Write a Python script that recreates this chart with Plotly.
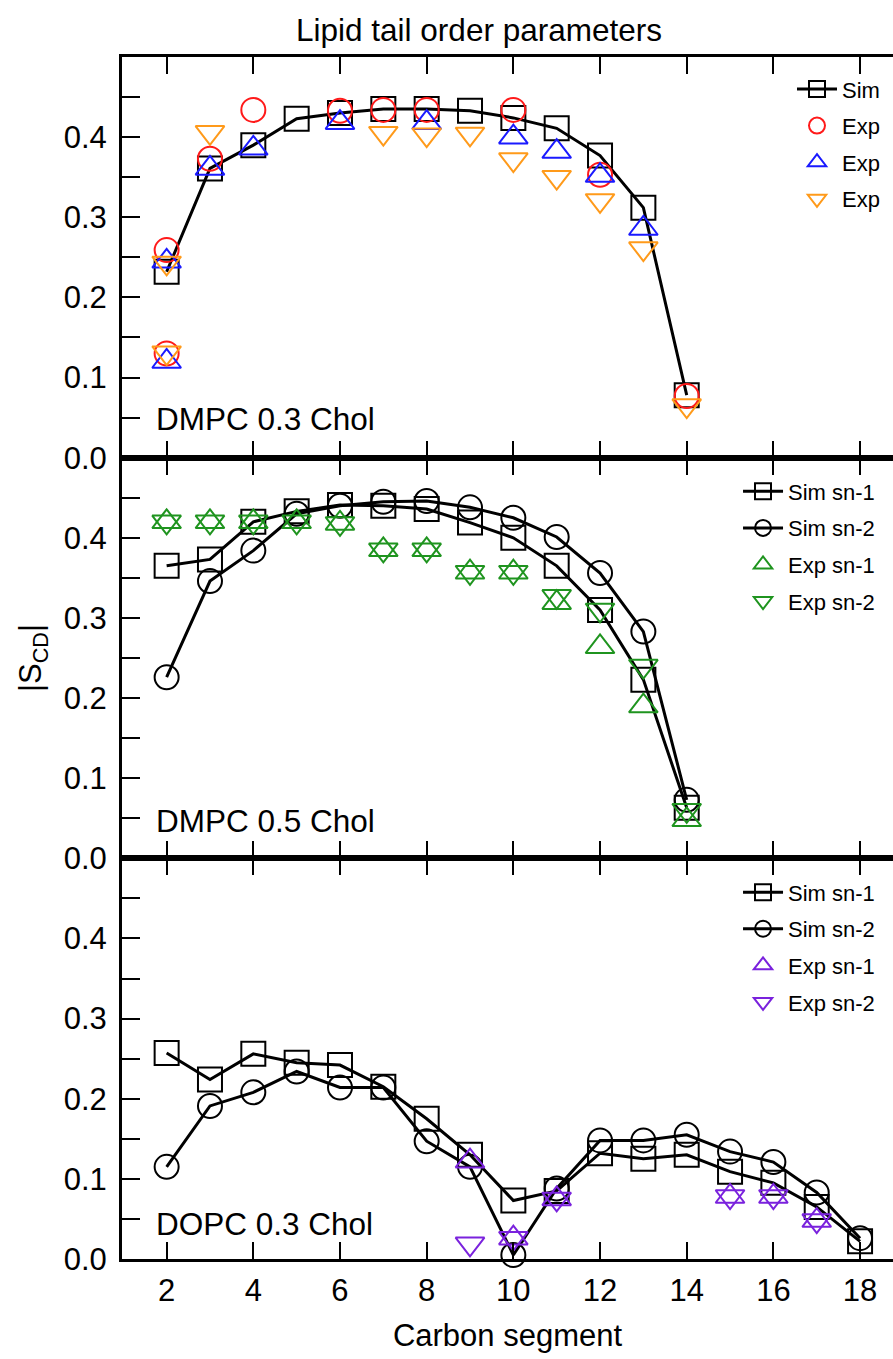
import plotly.graph_objects as go
from plotly.subplots import make_subplots

# ---------------- data ----------------
carbons_dmpc = [2, 3, 4, 5, 6, 7, 8, 9, 10, 11, 12, 13, 14]
carbons_dopc = [2, 3, 4, 5, 6, 7, 8, 9, 10, 11, 12, 13, 14, 15, 16, 17, 18]

# Panel 1: DMPC 0.3 Chol
p1_sim = [0.232, 0.361, 0.390, 0.423, 0.430, 0.435, 0.435, 0.433, 0.424, 0.411, 0.377, 0.312, 0.078]
p1_exp_red_x = [2, 2, 3, 4, 6, 7, 8, 10, 12, 14]
p1_exp_red = [0.259, 0.130, 0.373, 0.434, 0.433, 0.434, 0.434, 0.434, 0.353, 0.077]
p1_exp_blue_x = [2, 2, 3, 4, 6, 8, 10, 11, 12, 13]
p1_exp_blue = [0.245, 0.120, 0.361, 0.386, 0.418, 0.418, 0.400, 0.382, 0.352, 0.286]
p1_exp_orange_x = [2, 2, 3, 7, 8, 9, 10, 11, 12, 13, 14]
p1_exp_orange = [0.243, 0.131, 0.406, 0.405, 0.403, 0.404, 0.372, 0.350, 0.321, 0.261, 0.065]

# Panel 2: DMPC 0.5 Chol
p2_sim_sn1 = [0.365, 0.373, 0.420, 0.433, 0.441, 0.440, 0.436, 0.419, 0.400, 0.365, 0.310, 0.223, 0.063]
p2_sim_sn2 = [0.226, 0.346, 0.384, 0.430, 0.440, 0.445, 0.446, 0.438, 0.425, 0.401, 0.356, 0.283, 0.073]
p2_exp_sn1 = [0.420, 0.420, 0.420, 0.420, 0.418, 0.385, 0.385, 0.357, 0.357, 0.319, 0.264, 0.190, 0.048]
p2_exp_sn2 = [0.420, 0.420, 0.420, 0.420, 0.418, 0.385, 0.385, 0.357, 0.357, 0.327, 0.310, 0.240, 0.060]

# Panel 3: DOPC 0.3 Chol
p3_sim_sn1 = [0.257, 0.224, 0.256, 0.245, 0.242, 0.215, 0.175, 0.130, 0.073, 0.085, 0.132,
              0.125, 0.130, 0.109, 0.095, 0.065, 0.022]
p3_sim_sn2 = [0.115, 0.191, 0.208, 0.234, 0.214, 0.214, 0.147, 0.115, 0.005, 0.088, 0.148,
              0.148, 0.155, 0.134, 0.121, 0.083, 0.026]
p3_exp_x = [9, 10, 11, 15, 16, 17, 18]
p3_exp_sn1 = [0.122, 0.026, 0.075, 0.078, 0.078, 0.048, -0.004]
p3_exp_sn2 = [0.019, 0.026, 0.075, 0.078, 0.078, 0.048, -0.004]

panel_labels = ["DMPC 0.3 Chol", "DMPC 0.5 Chol", "DOPC 0.3 Chol"]
y_tickvals = [0.0, 0.05, 0.1, 0.15, 0.2, 0.25, 0.3, 0.35, 0.4, 0.45]
y_ticktext = ["0.0", "", "0.1", "", "0.2", "", "0.3", "", "0.4", ""]
x_tickvals = [2, 4, 6, 8, 10, 12, 14, 16, 18]

# ---------------- styling ----------------
FONT = "Liberation Sans, Arial, Helvetica, sans-serif"
RED = "#ff1a1a"
BLUE = "#1a1aff"
ORANGE = "#ff9a1a"
GREEN = "#1f941f"
PURPLE = "#7a22dd"
MS = 24
TS = 25
MLW = 2

fig = make_subplots(rows=3, cols=1, shared_xaxes=True, vertical_spacing=0)


def sim(x, y, name, symbol, row, legend):
    fig.add_trace(go.Scatter(
        x=x, y=y, name=name, mode="lines+markers",
        line=dict(color="black", width=3),
        marker=dict(symbol=symbol, size=MS, color="black", line=dict(width=MLW, color="black")),
        legend=legend, legendgroup=legend + name, cliponaxis=False,
    ), row=row, col=1)


def exp(x, y, name, symbol, color, row, legend, size=MS):
    fig.add_trace(go.Scatter(
        x=x, y=y, name=name, mode="markers",
        marker=dict(symbol=symbol, size=size, color=color, line=dict(width=MLW, color=color)),
        legend=legend, legendgroup=legend + name + color + symbol, cliponaxis=False,
    ), row=row, col=1)


# Panel 1
sim(carbons_dmpc, p1_sim, "Sim", "square-open", 1, "legend")
exp(p1_exp_red_x, p1_exp_red, "Exp", "circle-open", RED, 1, "legend")
exp(p1_exp_blue_x, p1_exp_blue, "Exp", "triangle-up-open", BLUE, 1, "legend", TS)
exp(p1_exp_orange_x, p1_exp_orange, "Exp", "triangle-down-open", ORANGE, 1, "legend", TS)

# Panel 2
sim(carbons_dmpc, p2_sim_sn1, "Sim sn-1", "square-open", 2, "legend2")
sim(carbons_dmpc, p2_sim_sn2, "Sim sn-2", "circle-open", 2, "legend2")
exp(carbons_dmpc, p2_exp_sn1, "Exp sn-1", "triangle-up-open", GREEN, 2, "legend2", TS)
exp(carbons_dmpc, p2_exp_sn2, "Exp sn-2", "triangle-down-open", GREEN, 2, "legend2", TS)

# Panel 3
sim(carbons_dopc, p3_sim_sn1, "Sim sn-1", "square-open", 3, "legend3")
sim(carbons_dopc, p3_sim_sn2, "Sim sn-2", "circle-open", 3, "legend3")
exp(p3_exp_x, p3_exp_sn1, "Exp sn-1", "triangle-up-open", PURPLE, 3, "legend3", TS)
exp(p3_exp_x, p3_exp_sn2, "Exp sn-2", "triangle-down-open", PURPLE, 3, "legend3", TS)

# axes
for r in (1, 2, 3):
    fig.update_xaxes(
        row=r, col=1, range=[0.97, 18.76], tickvals=x_tickvals,
        ticks="inside", ticklen=17, tickwidth=1.5, tickcolor="black",
        showline=True, linewidth=3, linecolor="black", mirror="allticks",
        showgrid=False, zeroline=False,
        tickfont=dict(family=FONT, size=31, color="black"),
        showticklabels=(r == 3), ticklabelstandoff=2,
    )
    fig.update_yaxes(
        row=r, col=1, range=[0, 0.5], tickvals=y_tickvals, ticktext=y_ticktext,
        ticks="inside", ticklen=18, tickwidth=1.5, tickcolor="black",
        showline=True, linewidth=3, linecolor="black", mirror=False,
        showgrid=False, zeroline=False,
        tickfont=dict(family=FONT, size=31, color="black"), ticklabelstandoff=6,
    )

fig.update_xaxes(row=3, col=1, title=dict(text="Carbon segment", font=dict(family=FONT, size=31, color="black"),
                                          standoff=18))
fig.update_yaxes(row=2, col=1, title=dict(text="|S<sub>CD</sub>|", font=dict(family=FONT, size=31, color="black"),
                                          standoff=13))

# right-hand mirrored ticks without a visible axis line
for i, (ya, xa) in enumerate([("y", "x"), ("y2", "x2"), ("y3", "x3")]):
    fig.layout["yaxis%d" % (4 + i)] = dict(
        overlaying=ya, anchor=xa, side="right", range=[0, 0.5], tickvals=y_tickvals,
        ticks="inside", ticklen=10, tickwidth=1.5, tickcolor="black",
        showticklabels=False, showline=False, showgrid=False, zeroline=False,
    )

# panel labels
for i, lab in enumerate(panel_labels):
    sfx = "" if i == 0 else str(i + 1)
    fig.add_annotation(
        text=lab, xref="x%s domain" % sfx, yref="y%s domain" % sfx,
        x=0.041, y=[0.097, 0.092, 0.087][i], xanchor="left", yanchor="middle",
        showarrow=False, font=dict(family=FONT, size=31.5, color="black"),
    )

legend_style = dict(
    font=dict(family=FONT, size=22, color="black"), bgcolor="rgba(0,0,0,0)",
    xref="paper", yref="paper", xanchor="left", yanchor="top",
    traceorder="grouped", tracegroupgap=5, itemwidth=40,
)

fig.update_layout(
    width=893, height=1359,
    margin=dict(l=122, r=0, t=57, b=100),
    paper_bgcolor="white", plot_bgcolor="white",
    font=dict(family=FONT, color="black"),
    title=dict(text="Lipid tail order parameters", font=dict(family=FONT, size=31.5, color="black"),
               x=479 / 893, xanchor="center", xref="container", yref="container",
               y=1 - 30 / 1359, yanchor="middle"),
    legend=dict(legend_style, x=0.869, y=0.9907),
    legend2=dict(legend_style, x=0.799, y=0.656),
    legend3=dict(legend_style, x=0.799, y=0.3225),
)

fig.write_html("out.html", config={"displayModeBar": False},
               post_script="document.body.style.margin='0';")
